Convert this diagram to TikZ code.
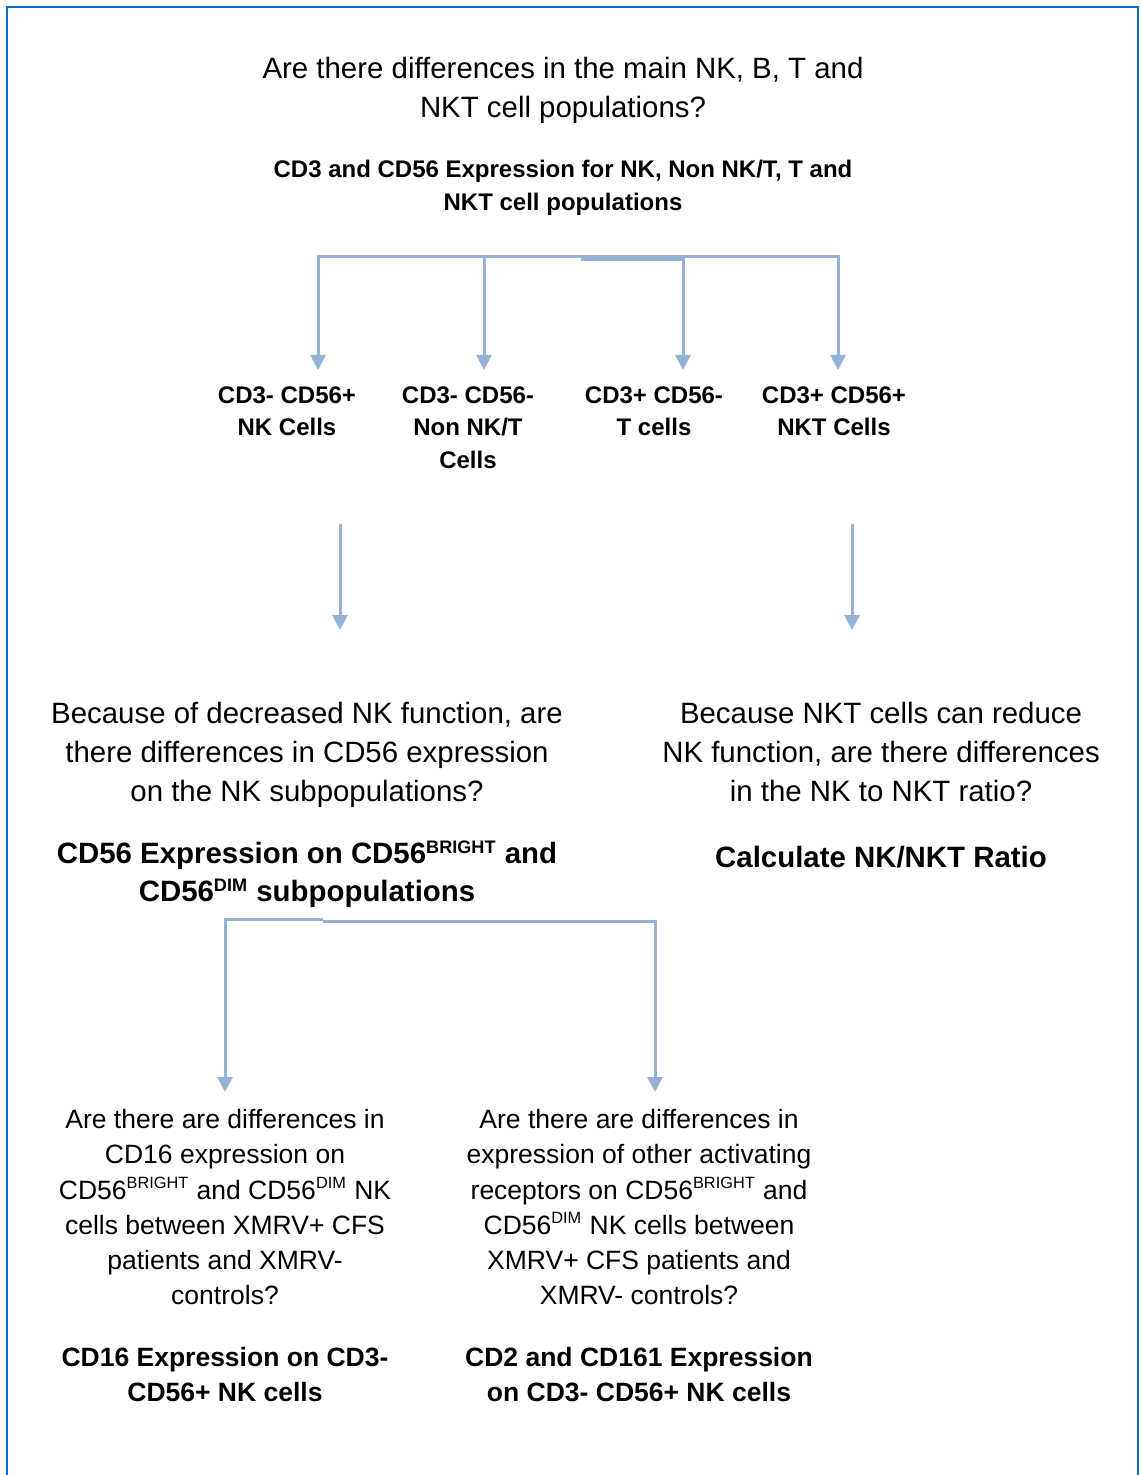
\documentclass[tikz,border=0pt]{standalone}
\usepackage{fontspec}
\usepackage{graphicx}
\setmainfont{Liberation Sans}
\usetikzlibrary{arrows.meta}
\definecolor{frameblue}{RGB}{0,112,192}
\definecolor{linkblue}{RGB}{149,179,215}
\newcommand{\upper}[1]{\textsuperscript{\scalebox{0.88}{#1}}}
\tikzset{
    question/.style={anchor=north, align=center, inner sep=0pt, font=\fontsize{14.7}{19.5}\selectfont},
    finding/.style={anchor=north, align=center, inner sep=0pt, font=\bfseries\fontsize{14.7}{19}\selectfont},
    population/.style={anchor=north, align=center, inner sep=0pt, font=\bfseries\fontsize{12}{16.4}\selectfont},
    subquestion/.style={anchor=north, align=center, inner sep=0pt, font=\fontsize{13.25}{17.6}\selectfont},
    subfinding/.style={anchor=north, align=center, inner sep=0pt, font=\bfseries\fontsize{13.25}{17.5}\selectfont},
    link/.style={draw=linkblue, line width=1.5pt, -{Triangle[width=7.5pt, length=7.5pt]}},
    border/.style={draw=frameblue, line width=1.2pt}
}

\begin{document}
\begin{tikzpicture}[x=0.5pt, y=-0.5pt]
    \useasboundingbox (0,0) rectangle (1141,1475);
    \draw[border] (7,1490) -- (7,7) -- (1138,7) -- (1138,1490);
    \node[question] (main) at (563,57) {Are there differences in the main NK, B, T and\\NKT cell populations?};
    \node[population] (cdexpr) at (563,160) {CD3 and CD56 Expression for NK, Non NK/T, T and\\NKT cell populations};
    \node[population] (nk) at (287,386) {CD3- CD56+\\NK Cells};
    \node[population] (nonnkt) at (468,386) {CD3- CD56-\\Non NK/T\\Cells};
    \node[population] (tcell) at (654,386) {CD3+ CD56-\\T cells};
    \node[population] (nkt) at (834,386) {CD3+ CD56+\\NKT Cells};
    \coordinate (split) at (581,257);
    \coordinate (splitT) at (581,260);
    \coordinate (nkin) at (318,370);
    \coordinate (nonnktin) at (484,370);
    \coordinate (tcellin) at (683,370);
    \coordinate (nktin) at (838,370);
    \draw[link] (split) -| (nkin);
    \draw[link] (split) -| (nonnktin);
    \draw[link] (splitT) -| (tcellin);
    \draw[link] (split) -| (nktin);
    \coordinate (nkout) at (340,524);
    \coordinate (nkfuncin) at (340,630);
    \coordinate (nktout) at (852,524);
    \coordinate (nktfuncin) at (852,630);
    \draw[link] (nkout) -- (nkfuncin);
    \draw[link] (nktout) -- (nktfuncin);
    \node[question] (nkfunc) at (307,702) {Because of decreased NK function, are\\there differences in CD56 expression\\on the NK subpopulations?};
    \node[finding] (cd56sub) at (307,840) {CD56 Expression on CD56\upper{BRIGHT} and\\CD56\upper{DIM} subpopulations};
    \node[question] (nktfunc) at (881,702) {Because NKT cells can reduce\\NK function, are there differences\\in the NK to NKT ratio?};
    \node[finding] (ratio) at (881,846) {Calculate NK/NKT Ratio};
    \coordinate (split2) at (323,919);
    \coordinate (split2b) at (323,921);
    \coordinate (cd16in) at (225,1092);
    \coordinate (otherin) at (655,1092);
    \draw[link] (split2) -| (cd16in);
    \draw[link] (split2b) -| (otherin);
    \node[subquestion] (cd16q) at (225,1109) {Are there are differences in\\CD16 expression on\\CD56\upper{BRIGHT} and CD56\upper{DIM} NK\\cells between XMRV+ CFS\\patients and XMRV-\\controls?};
    \node[subfinding] (cd16) at (225,1347) {CD16 Expression on CD3-\\CD56+ NK cells};
    \node[subquestion] (otherq) at (639,1109) {Are there are differences in\\expression of other activating\\receptors on CD56\upper{BRIGHT} and\\CD56\upper{DIM} NK cells between\\XMRV+ CFS patients and\\XMRV- controls?};
    \node[subfinding] (cd2) at (639,1347) {CD2 and CD161 Expression\\on CD3- CD56+ NK cells};
\end{tikzpicture}
\end{document}
